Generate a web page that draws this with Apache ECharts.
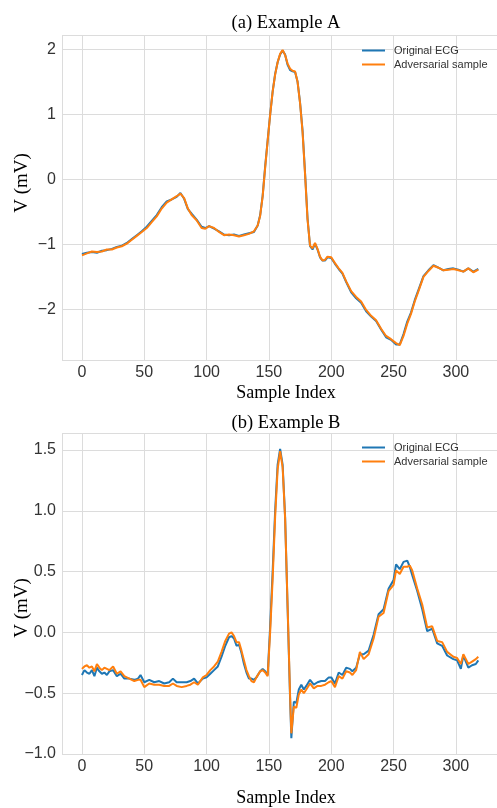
<!DOCTYPE html>
<html>
<head>
<meta charset="utf-8">
<script src="https://cdn.jsdelivr.net/npm/echarts@6/dist/echarts.min.js"></script>
<style>
html, body { margin: 0; padding: 0; background: #fff; }
#main { width: 497px; height: 808px; }
</style>
</head>
<body>
<div id="main"></div>
<script>
// (a) Example A
var xA = [0,4,8,12,16,20,24,28,32,36,40,44,48,52,56,60,64,68,72,76,79,82,85,88,92,96,99,102,106,110,114,118,122,126,130,134,138,141,143,145,147,149,151,153,155,157,159,161,163,165,167,169,171,173,175,177,179,181,183,185,187,189,191,193,195,197,200,203,206,209,212,216,220,224,228,232,236,240,244,248,252,255,258,261,264,267,270,274,278,282,286,290,294,298,302,306,310,314,318];
var origA = [-1.15,-1.13,-1.12,-1.13,-1.10,-1.09,-1.07,-1.04,-1.02,-0.98,-0.92,-0.86,-0.80,-0.73,-0.64,-0.55,-0.43,-0.34,-0.31,-0.27,-0.21,-0.30,-0.46,-0.53,-0.62,-0.73,-0.75,-0.72,-0.76,-0.80,-0.85,-0.86,-0.85,-0.87,-0.85,-0.83,-0.81,-0.71,-0.55,-0.25,0.20,0.60,1.00,1.35,1.62,1.80,1.92,1.98,1.92,1.76,1.68,1.66,1.65,1.50,1.18,0.75,0.10,-0.60,-1.03,-1.08,-0.99,-1.08,-1.20,-1.25,-1.25,-1.20,-1.21,-1.30,-1.38,-1.45,-1.58,-1.74,-1.83,-1.90,-2.03,-2.11,-2.18,-2.31,-2.43,-2.47,-2.54,-2.54,-2.38,-2.19,-2.05,-1.86,-1.70,-1.49,-1.40,-1.32,-1.36,-1.40,-1.38,-1.37,-1.39,-1.42,-1.37,-1.42,-1.38];
var advA = [-1.17,-1.14,-1.11,-1.12,-1.11,-1.08,-1.08,-1.05,-1.03,-0.99,-0.93,-0.87,-0.81,-0.75,-0.66,-0.57,-0.45,-0.36,-0.31,-0.26,-0.22,-0.29,-0.45,-0.55,-0.63,-0.75,-0.76,-0.72,-0.75,-0.81,-0.86,-0.85,-0.86,-0.88,-0.86,-0.84,-0.80,-0.71,-0.56,-0.26,0.18,0.59,0.99,1.35,1.61,1.80,1.93,1.99,1.91,1.78,1.70,1.67,1.66,1.50,1.17,0.73,0.08,-0.62,-1.02,-1.06,-0.98,-1.07,-1.19,-1.25,-1.24,-1.19,-1.20,-1.29,-1.37,-1.44,-1.57,-1.72,-1.81,-1.88,-2.01,-2.10,-2.17,-2.30,-2.41,-2.46,-2.52,-2.55,-2.41,-2.22,-2.07,-1.88,-1.72,-1.50,-1.41,-1.33,-1.36,-1.40,-1.39,-1.38,-1.40,-1.42,-1.37,-1.43,-1.39];

// (b) Example B
var xB = [0,2,4,6,8,10,12,14,16,18,20,22,25,28,31,34,38,42,45,47,50,54,58,62,66,70,73,76,80,84,87,90,93,97,100,103,106,109,112,115,118,120,122,124,126,128,130,132,134,136,138,140,143,145,147,149,151,153,155,157,159,161,163,165,167,168,170,172,174,176,178,180,183,186,189,192,195,198,200,203,206,209,212,215,217,220,223,226,230,234,238,242,246,250,252,255,258,261,263,265,269,273,277,281,285,289,293,298,301,304,306,310,313,316,318];
var origB = [-0.35,-0.31,-0.33,-0.34,-0.31,-0.36,-0.29,-0.32,-0.34,-0.33,-0.35,-0.32,-0.31,-0.36,-0.34,-0.38,-0.38,-0.39,-0.38,-0.35,-0.41,-0.39,-0.41,-0.40,-0.42,-0.41,-0.38,-0.41,-0.41,-0.41,-0.40,-0.38,-0.42,-0.38,-0.37,-0.34,-0.31,-0.28,-0.20,-0.11,-0.04,-0.03,-0.05,-0.11,-0.10,-0.17,-0.26,-0.33,-0.38,-0.38,-0.39,-0.37,-0.32,-0.30,-0.32,-0.35,0.05,0.50,1.00,1.38,1.51,1.38,0.95,0.20,-0.55,-0.87,-0.57,-0.58,-0.47,-0.43,-0.47,-0.44,-0.39,-0.43,-0.41,-0.40,-0.40,-0.37,-0.37,-0.42,-0.33,-0.35,-0.29,-0.30,-0.32,-0.29,-0.18,-0.18,-0.15,-0.02,0.15,0.19,0.36,0.43,0.56,0.52,0.58,0.59,0.54,0.47,0.34,0.19,0.01,0.03,-0.09,-0.11,-0.19,-0.22,-0.23,-0.30,-0.19,-0.29,-0.27,-0.26,-0.23];
var advB = [-0.30,-0.28,-0.27,-0.29,-0.28,-0.32,-0.26,-0.29,-0.31,-0.29,-0.30,-0.31,-0.28,-0.34,-0.32,-0.36,-0.38,-0.40,-0.39,-0.39,-0.45,-0.42,-0.43,-0.43,-0.44,-0.44,-0.42,-0.44,-0.45,-0.44,-0.43,-0.41,-0.43,-0.37,-0.35,-0.31,-0.28,-0.24,-0.16,-0.07,-0.01,0.00,-0.03,-0.08,-0.08,-0.15,-0.23,-0.31,-0.36,-0.40,-0.41,-0.37,-0.32,-0.31,-0.33,-0.36,0.00,0.44,0.95,1.34,1.49,1.36,0.94,0.22,-0.52,-0.83,-0.61,-0.62,-0.51,-0.47,-0.50,-0.47,-0.42,-0.46,-0.44,-0.44,-0.43,-0.41,-0.40,-0.45,-0.36,-0.38,-0.32,-0.33,-0.35,-0.31,-0.16,-0.22,-0.18,-0.05,0.13,0.16,0.34,0.39,0.51,0.48,0.54,0.54,0.55,0.51,0.36,0.23,0.04,0.05,-0.07,-0.08,-0.16,-0.20,-0.21,-0.26,-0.18,-0.26,-0.24,-0.22,-0.20];

var xTicks = 50;
var seriesNames = ['Original ECG', 'Adversarial sample'];
var colors = ['#1f77b4', '#ff7f0e'];

function pairs(xs, ys) {
    var out = [];
    for (var i = 0; i < xs.length; i++) out.push([xs[i], ys[i]]);
    return out;
}

function tickFmt(step, digits) {
    return function (v) {
        var k = v / step;
        if (Math.abs(k - Math.round(k)) > 1e-6) return '';
        var s = (Math.round(k) * step).toFixed(digits);
        if (s.charAt(0) === '-') s = '\u2212' + s.slice(1);
        return s;
    };
}

var gridLine = { show: true, lineStyle: { color: '#dcdcdc', width: 1 } };
var tickFont = { color: '#333', fontFamily: 'Liberation Sans, Arial, sans-serif', fontSize: 16 };
var serif = 'Liberation Serif, Times New Roman, serif';

function xAxisFor(gi, gap) {
    return {
        type: 'value', gridIndex: gi, min: -16, max: 333,
        minInterval: xTicks, maxInterval: xTicks,
        axisLine: { show: false }, axisTick: { show: false },
        splitLine: { show: true, showMaxLine: false, lineStyle: { color: '#dcdcdc', width: 1 } },
        axisLabel: Object.assign({ margin: 5, formatter: tickFmt(xTicks, 0), showMinLabel: false, showMaxLabel: false }, tickFont),
        name: 'Sample Index', nameLocation: 'middle', nameGap: gap,
        nameTextStyle: { fontFamily: serif, fontSize: 18, color: '#000', padding: [0, 0, 0, 13] }
    };
}

function yAxisFor(gi, min, max, step, digits) {
    return {
        type: 'value', gridIndex: gi, min: min, max: max,
        minInterval: step, maxInterval: step,
        axisLine: { show: false }, axisTick: { show: false },
        splitLine: gridLine,
        axisLabel: Object.assign({ margin: 6, formatter: tickFmt(step, digits) }, tickFont)
    };
}

function line(name, gi, data, color) {
    return {
        name: name, type: 'line', xAxisIndex: gi, yAxisIndex: gi,
        data: data, showSymbol: false, symbol: 'none',
        lineStyle: { color: color, width: 2 }, itemStyle: { color: color }
    };
}

function legendAt(top) {
    return {
        orient: 'vertical', left: 357, top: top, icon: 'rect',
        itemWidth: 23, itemHeight: 2, itemGap: 3,
        data: seriesNames,
        textStyle: { color: '#333', fontFamily: 'Liberation Sans, Arial, sans-serif', fontSize: 11, padding: [0, 0, 0, 4] }
    };
}

var myChart = echarts.init(document.getElementById('main'));
var option = {
    backgroundColor: '#fff',
    animation: false,
    color: colors,
    title: [
        { text: '(a) Example A', left: 281, top: 9, textAlign: 'center',
          textStyle: { fontFamily: serif, fontSize: 18.5, fontWeight: 'normal', color: '#000' } },
        { text: '(b) Example B', left: 281, top: 409, textAlign: 'center',
          textStyle: { fontFamily: serif, fontSize: 18.5, fontWeight: 'normal', color: '#000' } }
    ],
    legend: [legendAt(40), legendAt(437)],
    grid: [
        { left: 62, top: 35, width: 435, height: 325 },
        { left: 62, top: 433, width: 435, height: 326 }
    ],
    xAxis: [xAxisFor(0, 24), xAxisFor(1, 35)],
    yAxis: [yAxisFor(0, -2.78, 2.22, 1, 0), yAxisFor(1, -1.0, 1.64, 0.5, 1)],
    graphic: [
        { type: 'text', x: 22, y: 183, rotation: Math.PI / 2,
          style: { text: 'V (mV)', font: '19px ' + serif, fill: '#000', textAlign: 'center', textVerticalAlign: 'middle' } },
        { type: 'text', x: 22, y: 608, rotation: Math.PI / 2,
          style: { text: 'V (mV)', font: '19px ' + serif, fill: '#000', textAlign: 'center', textVerticalAlign: 'middle' } }
    ],
    series: [
        line(seriesNames[0], 0, pairs(xA, origA), colors[0]),
        line(seriesNames[1], 0, pairs(xA, advA), colors[1]),
        line(seriesNames[0], 1, pairs(xB, origB), colors[0]),
        line(seriesNames[1], 1, pairs(xB, advB), colors[1])
    ]
};

if (option && typeof option === "object") {
    myChart.setOption(option, true);
}
</script>
</body>
</html>
